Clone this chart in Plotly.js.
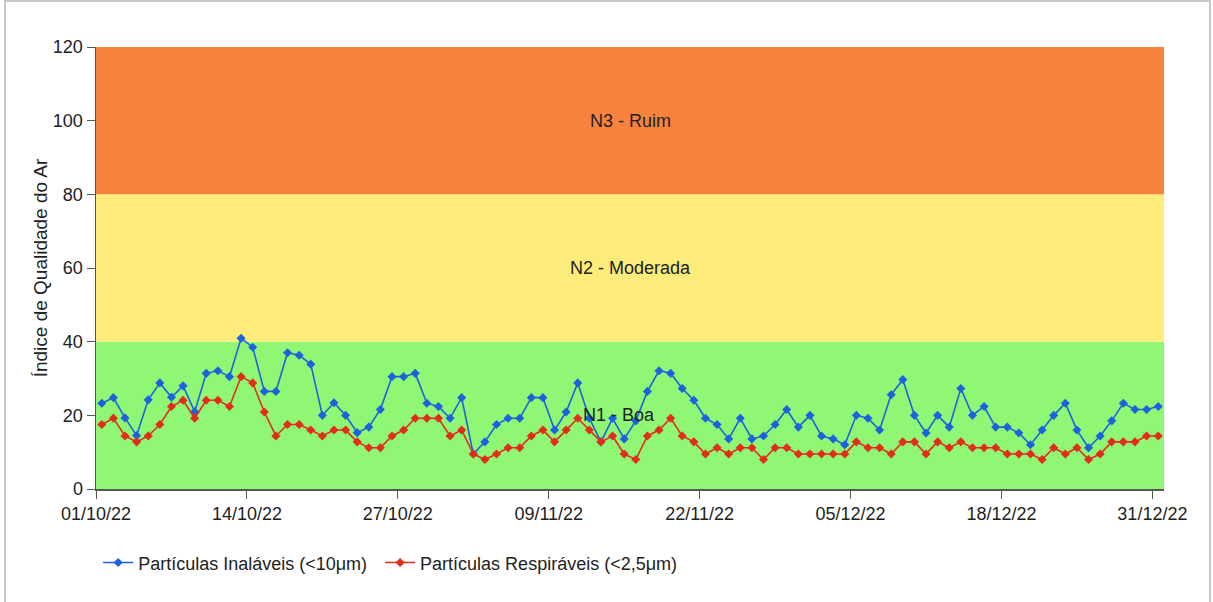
<!DOCTYPE html>
<html>
<head>
<meta charset="utf-8">
<script src="https://cdn.plot.ly/plotly-3.0.1.min.js"></script>
<style>html,body{margin:0;padding:0;background:#fff;}#chart{width:1213px;height:602px;}</style>
</head>
<body>
<div id="chart"></div>
<script>
const dates = [
"2022-10-01","2022-10-02","2022-10-03","2022-10-04","2022-10-05","2022-10-06","2022-10-07","2022-10-08","2022-10-09","2022-10-10",
"2022-10-11","2022-10-12","2022-10-13","2022-10-14","2022-10-15","2022-10-16","2022-10-17","2022-10-18","2022-10-19","2022-10-20",
"2022-10-21","2022-10-22","2022-10-23","2022-10-24","2022-10-25","2022-10-26","2022-10-27","2022-10-28","2022-10-29","2022-10-30",
"2022-10-31","2022-11-01","2022-11-02","2022-11-03","2022-11-04","2022-11-05","2022-11-06","2022-11-07","2022-11-08","2022-11-09",
"2022-11-10","2022-11-11","2022-11-12","2022-11-13","2022-11-14","2022-11-15","2022-11-16","2022-11-17","2022-11-18","2022-11-19",
"2022-11-20","2022-11-21","2022-11-22","2022-11-23","2022-11-24","2022-11-25","2022-11-26","2022-11-27","2022-11-28","2022-11-29",
"2022-11-30","2022-12-01","2022-12-02","2022-12-03","2022-12-04","2022-12-05","2022-12-06","2022-12-07","2022-12-08","2022-12-09",
"2022-12-10","2022-12-11","2022-12-12","2022-12-13","2022-12-14","2022-12-15","2022-12-16","2022-12-17","2022-12-18","2022-12-19",
"2022-12-20","2022-12-21","2022-12-22","2022-12-23","2022-12-24","2022-12-25","2022-12-26","2022-12-27","2022-12-28","2022-12-29",
"2022-12-30","2022-12-31"];

const pm10 = [
23.3,24.8,19.3,14.5,24.2,28.8,24.9,28.0,21.0,31.4,
32.1,30.5,40.9,38.5,26.5,26.5,37.0,36.3,33.9,20.0,
23.4,20.0,15.3,16.8,21.6,30.5,30.5,31.4,23.3,22.4,
19.2,24.8,9.5,12.8,17.5,19.2,19.2,24.8,24.8,16.0,
20.9,28.8,19.2,12.8,19.2,13.6,18.5,26.5,32.1,31.4,
27.3,24.1,19.2,17.5,13.6,19.2,13.6,14.4,17.5,21.6,
16.8,20.0,14.4,13.6,12.0,20.0,19.2,16.0,25.6,29.7,
20.0,15.2,20.0,16.8,27.3,20.0,22.4,16.8,16.8,15.2,
12.0,16.0,20.0,23.3,16.0,11.2,14.4,18.5,23.3,21.6,
21.6,22.4];

const pm25 = [
17.5,19.2,14.4,12.8,14.4,17.5,22.4,24.1,19.2,24.1,
24.1,22.4,30.5,28.8,20.9,14.4,17.5,17.5,16.0,14.4,
16.0,16.0,12.8,11.2,11.2,14.4,16.0,19.2,19.2,19.2,
14.4,16.0,9.5,8.0,9.5,11.2,11.2,14.4,16.0,12.8,
16.0,19.2,16.0,12.8,14.4,9.5,8.0,14.4,16.0,19.2,
14.4,12.8,9.5,11.2,9.5,11.2,11.2,8.0,11.2,11.2,
9.5,9.5,9.5,9.5,9.5,12.8,11.2,11.2,9.5,12.8,
12.8,9.5,12.8,11.2,12.8,11.2,11.2,11.2,9.5,9.5,
9.5,8.0,11.2,9.5,11.2,8.0,9.5,12.8,12.8,12.8,
14.4,14.4];

const seriesNames = ["Partículas Inaláveis (<10μm)", "Partículas Respiráveis (<2,5μm)"];
const tickDates = ["2022-09-30 12:00","2022-10-13 12:00","2022-10-26 12:00","2022-11-08 12:00","2022-11-21 12:00","2022-12-04 12:00","2022-12-17 12:00","2022-12-30 12:00"];
const tickLabels = ["01/10/22","14/10/22","27/10/22","09/11/22","22/11/22","05/12/22","18/12/22","31/12/22"];
const bandLimits = [0, 40, 80, 120];
const bandLabels = ["N1 - Boa", "N2 - Moderada", "N3 - Ruim"];
const bandLabelY = [20, 60, 100];
const bandColors = ["rgb(144,247,116)", "rgb(253,236,122)", "rgb(248,131,62)"];

const FONT = "Liberation Sans, Arial, sans-serif";

const traces = [
  {x: dates, y: pm10, name: seriesNames[0], type: "scatter", mode: "lines+markers", legend: "legend",
   line: {color: "rgb(28,98,222)", width: 1.6}, marker: {symbol: "diamond", size: 7, color: "rgb(28,98,222)"}},
  {x: dates, y: pm25, name: seriesNames[1], type: "scatter", mode: "lines+markers", legend: "legend2",
   line: {color: "rgb(226,44,28)", width: 1.6}, marker: {symbol: "diamond", size: 7, color: "rgb(226,44,28)"}}
];

const shapes = [];
for (let i = 0; i < bandLabels.length; i++) {
  shapes.push({type: "rect", xref: "paper", yref: "y", x0: 0, x1: 1, y0: bandLimits[i], y1: bandLimits[i+1],
    fillcolor: bandColors[i], line: {width: 0}, layer: "below"});
}
// outer frame (top, left, right)
shapes.push({type: "path", xref: "paper", yref: "paper",
  path: "M -0.0852,-0.3 L -0.0852,1.104 L 1.0431,1.104 L 1.0431,-0.3",
  line: {color: "rgb(200,200,200)", width: 2}});

const annotations = bandLabels.map((t, i) => ({
  text: t, xref: "paper", yref: "y", x: i === 0 ? 0.49 : 0.5, y: bandLabelY[i],
  showarrow: false, font: {family: FONT, size: 18, color: "#222"}
}));

const legendBase = {orientation: "h", y: -0.167, xanchor: "left", yanchor: "middle",
  font: {family: FONT, size: 18, color: "#222"}, bgcolor: "rgba(0,0,0,0)"};

const layout = {
  width: 1213, height: 602,
  margin: {l: 96, r: 49, t: 47, b: 113},
  paper_bgcolor: "#fff", plot_bgcolor: "#fff",
  font: {family: FONT, size: 18, color: "#222"},
  showlegend: true,
  legend: Object.assign({x: 0.002}, legendBase),
  legend2: Object.assign({x: 0.266}, legendBase),
  xaxis: {type: "date", range: ["2022-09-30 12:00", "2022-12-31 12:00"],
    tickmode: "array", tickvals: tickDates, ticktext: tickLabels,
    ticks: "outside", ticklen: 8, tickcolor: "#555", showline: true, linecolor: "#555", linewidth: 1.5,
    showgrid: false, zeroline: false, tickfont: {family: FONT, size: 18, color: "#222"}},
  yaxis: {range: [0, 120], tickvals: [0,20,40,60,80,100,120], ticks: "outside", ticklen: 8, tickcolor: "#555",
    showline: true, linecolor: "#555", linewidth: 1.5, showgrid: false, zeroline: false,
    tickfont: {family: FONT, size: 18, color: "#222"},
    title: {text: "Índice de Qualidade do Ar", font: {family: FONT, size: 19, color: "#222"}, standoff: 0}},
  shapes: shapes,
  annotations: annotations
};

Plotly.newPlot("chart", traces, layout, {displayModeBar: false, staticPlot: true});
</script>
</body>
</html>
